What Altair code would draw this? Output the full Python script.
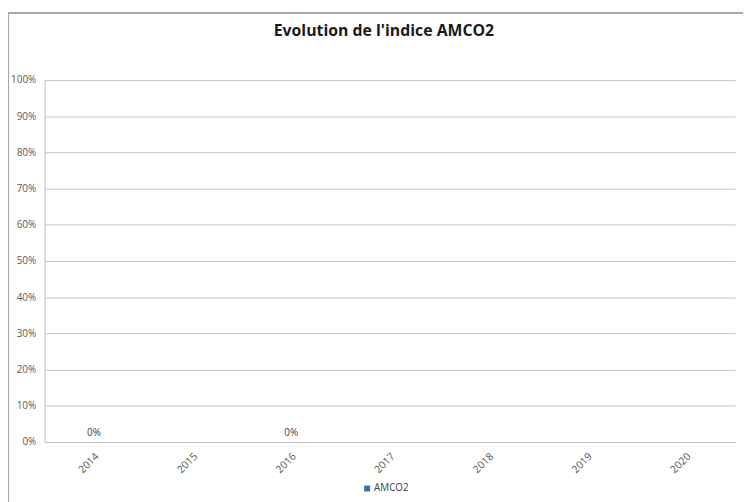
import altair as alt
import pandas as pd

years = ["2014", "2015", "2016", "2017", "2018", "2019", "2020"]
values = [0.0, None, 0.0, None, None, None, None]
series = "AMCO2"

df = pd.DataFrame({"year": years, "value": values, "serie": [series] * len(years)})

W, H = 698, 366
FONT = "Open Sans"

x_enc = alt.X("year:N", sort=years, title=None,
              scale=alt.Scale(paddingInner=0.4, paddingOuter=0.2),
              axis=alt.Axis(labelAngle=-45, labelFontSize=10.5, labelColor="#595959",
                            labelFont=FONT, ticks=False, domain=True, domainColor="#bfbfbf",
                            labelPadding=9, grid=False))
y_enc = alt.Y("value:Q", title=None,
              scale=alt.Scale(domain=[0, 1], nice=False),
              axis=alt.Axis(format=".0%", values=[i / 10 for i in range(11)],
                            labelOverlap=False,
                            labelFontSize=10, labelColor="#595959", labelFont=FONT,
                            ticks=False, domain=True, domainColor="#bfbfbf",
                            gridColor="#c4c4c4", labelPadding=9))

bars = alt.Chart(df).mark_bar(size=50).encode(
    x=x_enc,
    y=y_enc,
    color=alt.Color("serie:N", scale=alt.Scale(range=["#2e75b6"]), title=None,
                    legend=alt.Legend(orient="none", legendX=321, legendY=408,
                                      symbolType="square", symbolSize=36,
                                      labelFontSize=10, labelColor="#404040",
                                      labelFont=FONT, symbolStrokeWidth=0,
                                      labelOffset=2)),
)

labels = alt.Chart(df).transform_filter("datum.value != null").mark_text(
    dy=-9, fontSize=10, color="#404040", font=FONT
).encode(
    x=x_enc,
    y=y_enc,
    text=alt.Text("value:Q", format=".0%"),
)

frame_top = alt.Chart(df).mark_rule(color="#a6a6a6", strokeWidth=1).encode(
    x=alt.value(-37), x2=alt.value(W + 10), y=alt.value(-67.5)
)
frame_left = alt.Chart(df).mark_rule(color="#a6a6a6", strokeWidth=1).encode(
    x=alt.value(-36.5), y=alt.value(-67.5), y2=alt.value(H + 70)
)

chart = alt.layer(frame_top, frame_left, bars, labels).properties(
    width=W,
    height=H,
    autosize=alt.AutoSizeParams(type="none"),
    padding={"left": 37, "top": 70, "right": 8, "bottom": 70},
    title=alt.TitleParams("Evolution de l'indice AMCO2", fontSize=16, font=FONT,
                          fontWeight="bold", color="#1a1a1a", anchor="middle",
                          dx=-6, offset=-27),
).configure_view(stroke=None)

chart.save("out.html", embed_options={"renderer": "svg", "actions": False})
